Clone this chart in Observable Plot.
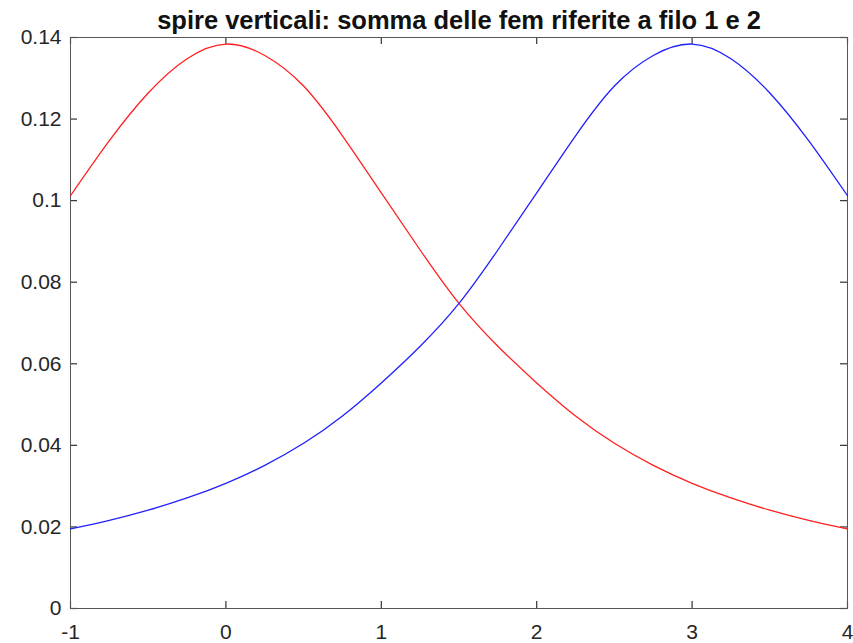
<!DOCTYPE html>
<html>
<head>
<meta charset="utf-8">
<script src="https://cdn.jsdelivr.net/npm/d3@7"></script>
<script src="https://cdn.jsdelivr.net/npm/@observablehq/plot@0.6"></script>
<style>
  html, body { margin: 0; padding: 0; background: #fff; }
  #chart svg { display: block; }
</style>
</head>
<body>
<div id="chart"></div>
<script>
const titleText = "spire verticali: somma delle fem riferite a filo 1 e 2";
const xValues = [-1, -0.75, -0.5, -0.25, 0, 0.25, 0.5, 0.75, 1, 1.25, 1.5, 1.75, 2, 2.25, 2.5, 2.75, 3, 3.25, 3.5, 3.75, 4];
const femFilo1 = [0.1012, 0.1147, 0.1264, 0.1348, 0.1384, 0.1356, 0.1281, 0.1159, 0.1019, 0.0879, 0.0748, 0.0643, 0.0553, 0.0472, 0.0405, 0.0351, 0.0307, 0.0271, 0.0241, 0.0216, 0.0195];
const femFilo2 = [0.0195, 0.0216, 0.0241, 0.0271, 0.0307, 0.0351, 0.0405, 0.0472, 0.0553, 0.0643, 0.0748, 0.0879, 0.1019, 0.1159, 0.1281, 0.1356, 0.1384, 0.1348, 0.1264, 0.1147, 0.1012];
const xTicks = [-1, 0, 1, 2, 3, 4];
const yTicks = [0, 0.02, 0.04, 0.06, 0.08, 0.1, 0.12, 0.14];

const rows1 = xValues.map((x, i) => ({x, y: femFilo1[i]}));
const rows2 = xValues.map((x, i) => ({x, y: femFilo2[i]}));

const W = 853, H = 643, mL = 70, mR = 6, mT = 37, mB = 35;
const frameW = W - mL - mR, frameH = H - mT - mB;
const tickLen = 7;

const axisColor = "#555555";
const fmt = d => String(d);
const tickStyle = {stroke: "#333333", strokeWidth: 1.2};

const chart = Plot.plot({
  width: W,
  height: H,
  marginLeft: mL,
  marginRight: mR,
  marginTop: mT,
  marginBottom: mB,
  style: {fontFamily: "'Liberation Sans', Arial, Helvetica, sans-serif", background: "#fff"},
  x: {domain: [-1, 4], axis: null},
  y: {domain: [0, 0.14], axis: null},
  marks: [
    Plot.axisX(xTicks, {anchor: "bottom", label: null, tickSize: 0, tickPadding: 16, tickFormat: fmt, fontSize: 21, color: "#262626"}),
    Plot.axisY(yTicks, {anchor: "left", label: null, tickSize: 0, tickPadding: 9, tickFormat: fmt, fontSize: 21, color: "#262626"}),
    Plot.tickX(xTicks, {x: d => d, insetTop: frameH - tickLen, ...tickStyle}),
    Plot.tickX(xTicks, {x: d => d, insetBottom: frameH - tickLen, ...tickStyle}),
    Plot.tickY(yTicks, {y: d => d, insetRight: frameW - tickLen, ...tickStyle}),
    Plot.tickY(yTicks, {y: d => d, insetLeft: frameW - tickLen, ...tickStyle}),
    Plot.frame({stroke: axisColor, strokeWidth: 1}),
    Plot.line(rows1, {x: "x", y: "y", stroke: "#ff2020", strokeWidth: 1.3, curve: "natural"}),
    Plot.line(rows2, {x: "x", y: "y", stroke: "#2020ff", strokeWidth: 1.3, curve: "natural"}),
    Plot.text([titleText], {frameAnchor: "top", text: d => d, lineAnchor: "bottom", dy: -9, fontSize: 25.5, fontWeight: "bold", fill: "#111"})
  ]
});
document.getElementById("chart").appendChild(chart);
</script>
</body>
</html>
